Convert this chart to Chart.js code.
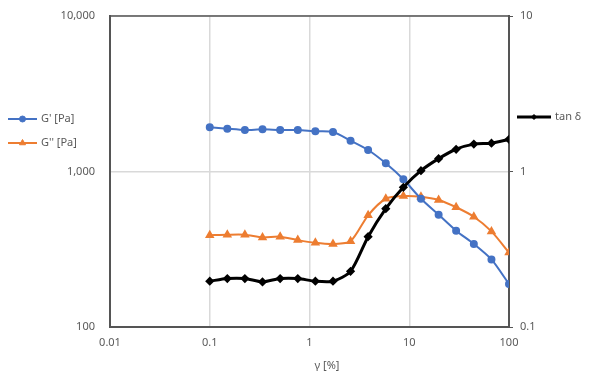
<!DOCTYPE html>
<html>
<head>
<meta charset="utf-8">
<script src="https://cdn.jsdelivr.net/npm/chart.js@4"></script>
<style>
  html, body { margin: 0; padding: 0; background: #fff; }
  #wrap { width: 591px; height: 383px; position: relative; }
</style>
</head>
<body>
<div id="wrap"><canvas id="rheo"></canvas></div>
<script>
// strain amplitude [%]
const strain = [0.1, 0.15, 0.225, 0.338, 0.508, 0.763, 1.145, 1.72, 2.58, 3.87, 5.82, 8.73, 13.1, 19.7, 29.5, 44.4, 66.7, 100];
// storage modulus G' [Pa]
const gStorage = [1923, 1884, 1849, 1866, 1849, 1849, 1814, 1795, 1578, 1375, 1129, 891, 668, 527, 416, 342, 272, 189];
// loss modulus G'' [Pa]
const gLoss = [389, 392, 392, 377, 381, 362, 348, 342, 356, 523, 668, 695, 688, 656, 589, 512, 412, 301];
// loss factor tan delta
const tanDelta = [0.197, 0.205, 0.205, 0.195, 0.205, 0.205, 0.197, 0.197, 0.228, 0.381, 0.577, 0.791, 1.012, 1.21, 1.39, 1.50, 1.52, 1.61];

const xTicks = [0.01, 0.1, 1, 10, 100];
const yLeftTicks = [100, 1000, 10000];
const yRightTicks = [0.1, 1, 10];

const textColor = '#595959';
const axisColor = '#555555';
const gridColor = '#d9d9d9';
const fontSpec = { family: 'Noto Sans', size: 11 };

function pts(ys) {
    return strain.map(function (x, i) { return { x: x, y: ys[i] }; });
}

function keepTicks(list) {
    return function (scale) {
        scale.ticks = list.map(function (v) { return { value: v }; });
    };
}

// fixed box sizes, no extra padding from the tick labels
function fixSize(w, h) {
    return function (s) {
        if (w) s.width = w;
        if (h) s.height = h;
        s.paddingTop = 0;
        s.paddingBottom = 0;
        s.paddingLeft = 0;
        s.paddingRight = 0;
    };
}

function fmt(v) {
    return Number(v).toLocaleString('en-US');
}

// frame, axis title and the two side legends
const decorPlugin = {
    id: 'decor',
    afterDraw: function (chart) {
        const ctx = chart.ctx;
        const a = chart.chartArea;
        ctx.save();
        ctx.strokeStyle = axisColor;
        ctx.lineWidth = 1.5;
        ctx.beginPath();
        ctx.moveTo(a.left, a.top);
        ctx.lineTo(a.right, a.top);
        ctx.stroke();

        ctx.fillStyle = textColor;
        ctx.font = '11px "Noto Sans"';
        ctx.textBaseline = 'middle';
        ctx.textAlign = 'center';
        ctx.fillText('γ [%]', 327, 366);

        ctx.textAlign = 'left';
        function legendItem(x1, x2, y, color, width, style, radius, label) {
            ctx.strokeStyle = color;
            ctx.fillStyle = color;
            ctx.lineWidth = width;
            ctx.beginPath();
            ctx.moveTo(x1, y);
            ctx.lineTo(x2, y);
            ctx.stroke();
            ctx.lineWidth = 1;
            Chart.helpers.drawPoint(ctx, {
                pointStyle: style, radius: radius, borderWidth: 1
            }, (x1 + x2) / 2, y);
            ctx.fillStyle = textColor;
            ctx.fillText(label, x2 + 4, y);
        }
        legendItem(8, 37, 119, '#4472C4', 2, 'circle', 3, "G' [Pa]");
        legendItem(8, 37, 143, '#ED7D31', 2, 'triangle', 3.5, "G'' [Pa]");
        legendItem(517, 551, 117, '#000000', 3, 'rectRot', 2.5, 'tan δ');
        ctx.restore();
    }
};

let ctx = document.getElementById('rheo').getContext('2d');

let rheoChart = new Chart(ctx, {
    type: 'line',
    data: {
        datasets: [{
            label: 'tan δ',
            data: pts(tanDelta),
            yAxisID: 'y2',
            borderColor: '#000000',
            backgroundColor: '#000000',
            borderWidth: 3,
            pointStyle: 'rectRot',
            pointRadius: 2.5,
            order: 0
        }, {
            label: "G' [Pa]",
            data: pts(gStorage),
            yAxisID: 'y',
            borderColor: '#4472C4',
            backgroundColor: '#4472C4',
            borderWidth: 2,
            pointStyle: 'circle',
            pointRadius: 3,
            order: 1
        }, {
            label: "G'' [Pa]",
            data: pts(gLoss),
            yAxisID: 'y',
            borderColor: '#ED7D31',
            backgroundColor: '#ED7D31',
            borderWidth: 2,
            pointStyle: 'triangle',
            pointRadius: 3.5,
            order: 2
        }]
    },
    options: {
        responsive: true,
        maintainAspectRatio: false,
        animation: false,
        layout: { padding: { top: 16, left: 0, right: 0, bottom: 0 } },
        elements: { line: { tension: 0.25 }, point: { borderWidth: 1 } },
        plugins: { legend: { display: false }, tooltip: { enabled: false } },
        scales: {
            x: {
                type: 'logarithmic',
                min: 0.01,
                max: 100,
                afterBuildTicks: keepTicks(xTicks),
                afterFit: fixSize(0, 56),
                border: { color: axisColor, width: 2 },
                grid: { color: gridColor, lineWidth: 1.5, drawTicks: false },
                ticks: { color: textColor, font: fontSpec, padding: 9, autoSkip: false, maxRotation: 0, callback: fmt }
            },
            y: {
                type: 'logarithmic',
                position: 'left',
                min: 100,
                max: 10000,
                afterBuildTicks: keepTicks(yLeftTicks),
                afterFit: fixSize(110, 0),
                border: { color: axisColor, width: 2 },
                grid: { color: gridColor, lineWidth: 1.5, drawTicks: false },
                ticks: { color: textColor, font: fontSpec, padding: 15, autoSkip: false, callback: fmt }
            },
            y2: {
                type: 'logarithmic',
                position: 'right',
                min: 0.1,
                max: 10,
                afterBuildTicks: keepTicks(yRightTicks),
                afterFit: fixSize(82, 0),
                border: { color: axisColor, width: 2 },
                grid: { drawOnChartArea: false, color: axisColor, tickLength: 4, lineWidth: 1 },
                ticks: { color: textColor, font: fontSpec, padding: 7, autoSkip: false, callback: fmt }
            }
        }
    },
    plugins: [decorPlugin]
});
</script>
</body>
</html>
